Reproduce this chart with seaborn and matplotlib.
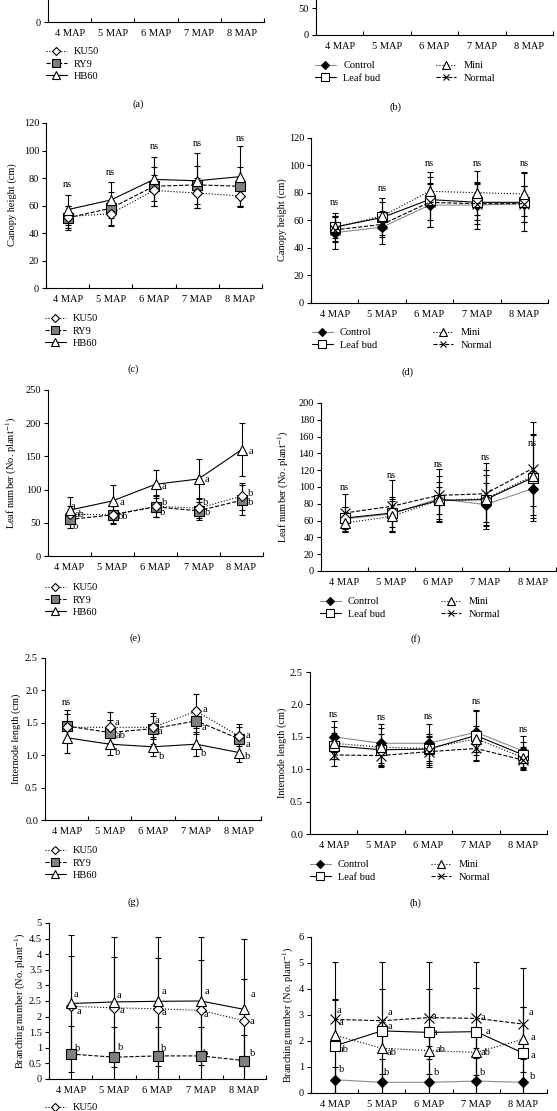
import numpy as np
import matplotlib
matplotlib.use("Agg")
import matplotlib.pyplot as plt
from matplotlib.lines import Line2D
from matplotlib.ticker import FuncFormatter, MultipleLocator, FixedLocator
import seaborn as sns

sns.set_style("ticks", rc={"axes.edgecolor": "black", "text.color": "black",
                           "xtick.color": "black", "ytick.color": "black"})
plt.rcParams["font.family"] = ["Liberation Serif", "DejaVu Serif"]
plt.rcParams["mathtext.fontset"] = "stix"

W, H = 557, 1111
FS = 7.5

# ---------------- data ----------------
months = ["4 MAP", "5 MAP", "6 MAP", "7 MAP", "8 MAP"]
cultivars = ["KU50", "RY9", "HB60"]
treatments = ["Control", "Leaf bud", "Mini", "Normal"]

# canopy height (cm)
canopy_cv = {"KU50": [52, 54, 71, 69, 67], "RY9": [51, 58, 74, 75, 74], "HB60": [57, 64, 79, 78, 81]}
canopy_cv_sd = {"KU50": [8, 9, 11, 11, 7], "RY9": [9, 12, 14, 14, 14], "HB60": [11, 13, 16, 20, 22]}
canopy_tr = {"Control": [51, 55, 71, 71, 72], "Leaf bud": [55, 62, 75, 73, 73],
             "Mini": [55, 63, 81, 80, 79], "Normal": [53, 57, 73, 72, 72]}
canopy_tr_sd = {"Control": [12, 12, 16, 17, 13], "Leaf bud": [10, 14, 20, 13, 21],
                "Mini": [8, 10, 10, 16, 16], "Normal": [9, 8, 13, 15, 13]}

# leaf number (No. plant-1)
leaf_cv = {"KU50": [63, 62, 75, 72, 90], "RY9": [55, 62, 74, 68, 84], "HB60": [69, 83, 108, 116, 160]}
leaf_cv_sd = {"KU50": [12, 13, 17, 15, 20], "RY9": [13, 14, 16, 14, 23], "HB60": [20, 24, 21, 30, 40]}
leaf_tr = {"Control": [62, 68, 86, 79, 98], "Leaf bud": [63, 69, 84, 85, 111],
           "Mini": [57, 65, 84, 86, 113], "Normal": [69, 77, 90, 92, 122]}
leaf_tr_sd = {"Control": [14, 20, 27, 26, 21], "Leaf bud": [13, 17, 16, 35, 51],
              "Mini": [11, 18, 22, 28, 50], "Normal": [23, 31, 32, 37, 55]}

# internode length (cm)
inter_cv = {"KU50": [1.43, 1.43, 1.43, 1.68, 1.29], "RY9": [1.45, 1.35, 1.41, 1.53, 1.25],
            "HB60": [1.27, 1.17, 1.13, 1.17, 1.04]}
inter_cv_sd = {"KU50": [0.20, 0.24, 0.18, 0.26, 0.15], "RY9": [0.25, 0.20, 0.24, 0.20, 0.23],
               "HB60": [0.24, 0.17, 0.15, 0.19, 0.14]}
inter_tr = {"Control": [1.50, 1.40, 1.40, 1.57, 1.28], "Leaf bud": [1.36, 1.30, 1.31, 1.52, 1.22],
            "Mini": [1.40, 1.34, 1.32, 1.47, 1.18], "Normal": [1.22, 1.21, 1.27, 1.32, 1.14]}
inter_tr_sd = {"Control": [0.24, 0.30, 0.30, 0.35, 0.24], "Leaf bud": [0.20, 0.25, 0.24, 0.38, 0.20],
               "Mini": [0.25, 0.30, 0.20, 0.20, 0.17], "Normal": [0.17, 0.15, 0.23, 0.20, 0.15]}

# branching number (No. plant-1)
branch_cv = {"KU50": [2.33, 2.28, 2.25, 2.20, 1.87], "RY9": [0.80, 0.70, 0.74, 0.74, 0.59],
             "HB60": [2.42, 2.47, 2.49, 2.50, 2.23]}
branch_cv_sd = {"KU50": [1.62, 1.62, 1.62, 1.60, 1.33], "RY9": [0.90, 0.97, 0.93, 0.93, 0.83],
                "HB60": [2.18, 2.08, 2.06, 2.05, 2.27]}
branch_tr = {"Control": [0.51, 0.41, 0.41, 0.46, 0.41], "Leaf bud": [1.81, 2.39, 2.33, 2.36, 1.53],
             "Mini": [2.23, 1.72, 1.63, 1.56, 2.07], "Normal": [2.83, 2.78, 2.90, 2.87, 2.65]}
branch_tr_sd = {"Control": [0.50, 0.90, 0.90, 0.90, 0.90], "Leaf bud": [1.80, 2.66, 2.70, 2.66, 3.27],
                "Mini": [2.82, 1.00, 0.90, 0.85, 1.25], "Normal": [0.75, 1.22, 1.10, 1.15, 0.65]}

# significance letters (x position, y position, text)
notes_c = [(0, 75, "ns"), (1, 84, "ns"), (2, 103, "ns"), (3, 105, "ns"), (4, 109, "ns")]
notes_d = [(0, 73, "ns"), (1, 83, "ns"), (2, 101, "ns"), (3, 101, "ns"), (4, 101, "ns")]
notes_e = [(0.07, 75, "a"), (0.23, 62, "ab"), (0.15, 44, "b"), (1.21, 81, "a"), (1.25, 60, "bb"),
           (2.2, 105, "a"), (2.2, 80, "b"), (2.17, 66, "b"), (3.2, 115, "a"), (3.16, 80, "b"),
           (3.2, 66, "b"), (4.21, 157, "a"), (4.21, 94, "b"), (4.21, 80, "b")]
notes_f = [(0, 100, "ns"), (1, 114, "ns"), (2, 127, "ns"), (3, 135, "ns"), (4, 152, "ns")]
notes_g = [(0, 1.81, "ns"), (1.17, 1.51, "a"), (1.24, 1.30, "ab"), (1.17, 1.04, "b"),
           (2.1, 1.54, "a"), (2.16, 1.37, "a"), (2.19, 0.98, "b"), (3.2, 1.70, "a"),
           (3.18, 1.42, "a"), (3.16, 1.02, "b"), (4.2, 1.31, "a"), (4.2, 1.17, "a"), (4.2, 0.98, "b")]
notes_h = [(0, 1.85, "ns"), (1, 1.80, "ns"), (2, 1.82, "ns"), (3, 2.04, "ns"), (4, 1.62, "ns")]
notes_i = [(0.12, 2.71, "a"), (0.19, 2.17, "a"), (0.16, 0.99, "b"), (1.12, 2.68, "a"),
           (1.18, 2.2, "a"), (1.16, 1.02, "b"), (2.14, 2.82, "a"), (2.14, 2.14, "a"),
           (2.14, 0.97, "b"), (3.14, 2.8, "a"), (3.11, 2.06, "a"), (3.11, 0.83, "b"),
           (4.19, 2.71, "a"), (4.18, 1.85, "a"), (4.19, 0.83, "b")]
notes_j = [(0.1, 3.19, "a"), (0.14, 2.72, "a"), (0.2, 1.66, "ab"), (0.14, 0.89, "b"),
           (1.18, 3.09, "a"), (1.18, 2.55, "a"), (1.21, 1.56, "ab"), (1.11, 0.77, "b"),
           (2.11, 2.96, "a"), (2.12, 2.32, "a"), (2.24, 1.66, "ab"), (2.16, 0.79, "b"),
           (3.15, 2.91, "a"), (3.25, 2.36, "a"), (3.2, 1.57, "ab"), (3.13, 0.79, "b"),
           (4.16, 3.09, "a"), (4.2, 2.14, "a"), (4.2, 1.44, "a"), (4.2, 0.64, "b")]

# ---------------- styles ----------------
cv_style = {
    "KU50": dict(lc="black", ls=":", marker="D", ms=5.5, mfc="white", z=5),
    "RY9": dict(lc="black", ls="--", marker="s", ms=7, mfc="#7f7f7f", z=4),
    "HB60": dict(lc="black", ls="-", marker="^", ms=7.5, mfc="white", z=6),
}
tr_style = {
    "Control": dict(lc="#8c8c8c", ls="-", marker="D", ms=5, mfc="black", z=4),
    "Leaf bud": dict(lc="black", ls="-", marker="s", ms=7, mfc="white", z=5),
    "Mini": dict(lc="black", ls=":", marker="^", ms=7.5, mfc="white", z=6),
    "Normal": dict(lc="black", ls="--", marker="x", ms=6.5, mfc="black", z=7),
}

fig = plt.figure(figsize=(W / 100, H / 100), dpi=100)


def px_axes(left, top, right, bottom):
    return fig.add_axes([left / W, 1 - bottom / H, (right - left) / W, (bottom - top) / H])


def draw_panel(box, ymax, ystep, fmt, means=None, sds=None, styles=None, notes=(), yticks=None):
    ax = px_axes(*box)
    x = np.arange(len(months))
    if means:
        for name, m in means.items():
            ax.errorbar(x, m, yerr=sds[name], fmt="none", ecolor="black",
                        elinewidth=0.8, capsize=2.5, capthick=0.8, zorder=2)
        for name, m in means.items():
            st = styles[name]
            sns.lineplot(x=x, y=m, ax=ax, color=st["lc"], linestyle=st["ls"], linewidth=0.8,
                         marker=st["marker"], markersize=st["ms"], markerfacecolor=st["mfc"],
                         markeredgecolor="black", markeredgewidth=0.8, zorder=st["z"],
                         errorbar=None, legend=False)
    ax.set_xlim(-0.5, len(months) - 0.5)
    ax.set_ylim(0, ymax)
    if yticks is None:
        ax.yaxis.set_major_locator(MultipleLocator(ystep))
    else:
        # panels cut by the top edge: only the ticks that are in view
        ax.yaxis.set_major_locator(FixedLocator(yticks))
    ax.yaxis.set_major_formatter(FuncFormatter(lambda v, p: fmt.format(v)))
    ax.set_xticks(x)
    ax.set_xticklabels(months)
    ax.set_xticks(np.arange(len(months) + 1) - 0.5, minor=True)
    ax.tick_params(axis="x", which="major", length=0, labelsize=FS, pad=5)
    ax.tick_params(axis="x", which="minor", length=3, direction="in", width=0.8)
    ax.tick_params(axis="y", length=3, direction="out", width=0.8, labelsize=FS, pad=2)
    sns.despine(ax=ax)
    for s in ("left", "bottom"):
        ax.spines[s].set_linewidth(0.8)
    ax.set_xlabel("")
    ax.set_ylabel("")
    for xi, yi, t in notes:
        ax.text(xi, yi, t, ha="center", va="center", fontsize=FS)
    return ax


def add_legend(names, styles, left, top, ncol=1, colsp=2.0):
    handles = [Line2D([], [], color=styles[n]["lc"], linestyle=styles[n]["ls"], linewidth=0.8,
                      marker=styles[n]["marker"], markersize=styles[n]["ms"] * 0.75,
                      markerfacecolor=styles[n]["mfc"], markeredgecolor="black",
                      markeredgewidth=0.8) for n in names]
    fig.legend(handles, names, loc="upper left", bbox_to_anchor=(left / W, 1 - top / H),
               frameon=False, fontsize=FS, handlelength=2.0, handletextpad=0.7,
               labelspacing=0.3, borderpad=0, borderaxespad=0, ncol=ncol, columnspacing=colsp)


def ylabel(text, x, y):
    fig.text(x / W, 1 - y / H, text, rotation=90, ha="center", va="center", fontsize=FS)


def letter(text, x, y):
    fig.text(x / W, 1 - y / H, text, ha="center", va="center", fontsize=FS)


# (a) and (b): only the bottoms are visible
draw_panel((48, -143, 264, 22), 250, 50, "{:g}", yticks=[0])
draw_panel((316, -127, 553, 35), 300, 50, "{:g}", yticks=[0, 50])
add_legend(cultivars, cv_style, 46, 47)
add_legend(treatments, tr_style, 315, 61, ncol=2, colsp=5.3)
letter("(a)", 138, 104)
letter("(b)", 395, 107)

# (c) / (d) canopy height
draw_panel((46, 123, 262, 288), 120, 20, "{:g}", canopy_cv, canopy_cv_sd, cv_style, notes_c)
draw_panel((311, 137.5, 548, 303), 120, 20, "{:g}", canopy_tr, canopy_tr_sd, tr_style, notes_d)
ylabel("Canopy height (cm)", 12, 205)
ylabel("Canopy height (cm)", 282, 220)
add_legend(cultivars, cv_style, 45, 314)
add_legend(treatments, tr_style, 312, 328, ncol=2, colsp=5.3)
letter("(c)", 133, 369)
letter("(d)", 408, 372)

# (e) / (f) leaf number
draw_panel((48, 390, 263, 556), 250, 50, "{:g}", leaf_cv, leaf_cv_sd, cv_style, notes_e)
draw_panel((321, 403, 556, 571), 200, 20, "{:g}", leaf_tr, leaf_tr_sd, tr_style, notes_f)
ylabel("Leaf number (No. plant$^{-1}$)", 11, 473)
ylabel("Leaf number (No. plant$^{-1}$)", 283, 487)
add_legend(cultivars, cv_style, 45, 583)
add_legend(treatments, tr_style, 320, 597, ncol=2, colsp=5.3)
letter("(e)", 135, 638)
letter("(f)", 416, 639)

# (g) / (h) internode length
draw_panel((45, 658, 261, 820), 2.5, 0.5, "{:.1f}", inter_cv, inter_cv_sd, cv_style, notes_g)
draw_panel((310, 672, 547, 834), 2.5, 0.5, "{:.1f}", inter_tr, inter_tr_sd, tr_style, notes_h)
ylabel("Internode length (cm)", 16, 739)
ylabel("Internode length (cm)", 282, 753)
add_legend(cultivars, cv_style, 45, 846)
add_legend(treatments, tr_style, 310, 860, ncol=2, colsp=5.3)
letter("(g)", 133, 902)
letter("(h)", 415, 903)

# (i) / (j) branching number
draw_panel((49, 923, 266, 1079), 5, 0.5, "{:g}", branch_cv, branch_cv_sd, cv_style, notes_i)
draw_panel((311, 937, 547, 1093), 6, 1, "{:g}", branch_tr, branch_tr_sd, tr_style, notes_j)
ylabel("Branching number (No. plant$^{-1}$)", 20, 1001)
ylabel("Branching number (No. plant$^{-1}$)", 288, 1015)
# only the first legend row of (i) is in view at the bottom edge
add_legend(cultivars[:1], cv_style, 45, 1103)

fig.savefig("out.png", dpi=100, facecolor="white")
